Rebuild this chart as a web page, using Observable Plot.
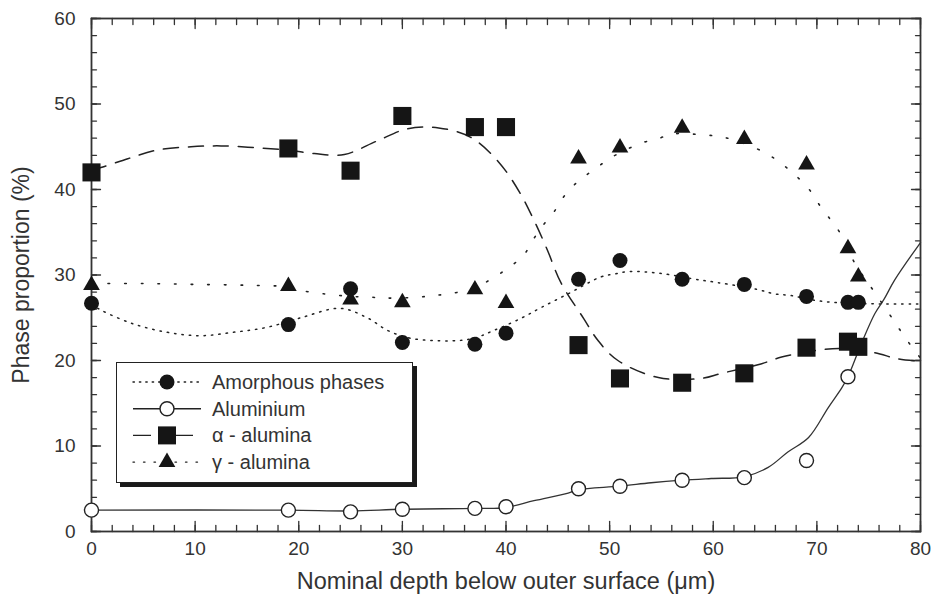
<!DOCTYPE html>
<html><head><meta charset="utf-8">
<script src="https://cdn.jsdelivr.net/npm/d3@7"></script>
<script src="https://cdn.jsdelivr.net/npm/@observablehq/plot@0.6"></script>
<style>
body{margin:0;background:#fff;}
#wrap{position:relative;width:934px;height:596px;font-family:"Liberation Sans",Arial,sans-serif;}
#legend{position:absolute;left:116px;top:362px;width:295px;height:119px;border:1.6px solid #222;box-shadow:4px 4px 0 #1a1a1a;background:#fff;}
</style></head><body><div id="wrap"></div>
<script>
// measured points
const depth = [0,19,25,30,37,40,47,51,57,63,69,73,74];
const amorphous = [26.7,24.2,28.4,22.1,21.9,23.2,29.5,31.7,29.5,28.9,27.5,26.8,26.8];
const aluminiumDepth = [0,19,25,30,37,40,47,51,57,63,69,73];
const aluminium = [2.5,2.5,2.3,2.6,2.7,2.9,5.0,5.3,6.0,6.3,8.3,18.1];
const alphaAlumina = [42.0,44.8,42.2,48.6,47.3,47.3,21.8,17.9,17.4,18.5,21.5,22.2,21.6];
const gammaAlumina = [28.8,28.7,27.1,26.8,28.3,26.7,43.6,44.9,47.2,45.9,42.9,33.1,29.8];

// fitted curves [depth, value]
const amorphousFit = [[0,26.6],[0.9,25.9],[4,24.3],[7.3,23.3],[10.5,22.9],[13.7,23.3],[17,23.9],[20.2,25.0],[24,26.1],[26.6,25.0],[28.6,23.5],[30.8,22.6],[34.7,22.3],[36.9,22.6],[38.8,23.5],[41.4,24.9],[43.4,26.2],[46,27.8],[49.2,29.8],[50.4,30.1],[51.8,30.4],[54.8,30.2],[58.8,29.4],[60.5,29.1],[64.3,28.3],[65.9,27.8],[67.5,27.6],[70,27.0],[73,26.7],[80,26.6]];
const aluminiumFit = [[0,2.5],[19,2.5],[25,2.4],[30,2.6],[37,2.7],[40,2.8],[42.7,3.6],[46,4.5],[47,4.9],[51,5.3],[54,5.7],[57,6.0],[59.8,6.2],[63,6.4],[65.3,7.5],[67.2,9.3],[69.2,11.0],[71.1,14.5],[72.4,16.8],[73,18.1],[74.3,22.0],[75.6,25.5],[76.5,27.2],[77.5,29.4],[80,33.8]];
const alphaFit = [[0,42.3],[1,42.6],[3.5,43.6],[6.3,44.6],[9.6,45.0],[12.5,45.1],[15.7,44.9],[19,44.6],[21.5,44.2],[24.4,44.1],[27.6,45.7],[30.5,47.1],[33.5,47.2],[36.6,46.1],[39.3,43.2],[41.3,39.7],[42.7,36.4],[44,32.9],[45.3,29.1],[47.5,24.9],[48.9,22.3],[50.8,20.0],[54.7,18.0],[58.8,17.9],[60.8,18.5],[64.6,19.6],[66.6,20.4],[70.1,21.2],[72.4,21.4],[75.6,20.9],[77.8,20.2],[80,19.9]];
const gammaFit = [[0,29.0],[5,29.0],[10,28.9],[15,28.8],[19,28.6],[20.2,28.2],[22.4,27.8],[25,27.5],[27,27.4],[28.4,27.3],[31.5,27.4],[33,27.6],[34.5,27.8],[37,28.5],[38.8,29.7],[40.3,30.9],[41.7,32.3],[42.6,34.1],[43.7,36.0],[44.7,37.5],[45.6,39.2],[47,41.0],[48.6,42.4],[50.1,43.7],[53,45.4],[54.8,46.0],[56.1,46.5],[59,46.4],[60.5,46.2],[62,45.8],[65,44.3],[66.6,43.0],[67.8,41.8],[69.2,40.1],[70.3,38.1],[71.3,36.5],[72.2,35.0],[73.7,31.3],[75.5,28.1],[77.4,24.7],[78.4,22.9],[79.4,21.2],[80,20.3]];

// ticks
const xMajor = [0,10,20,30,40,50,60,70,80];
const xMinor = d3.range(0, 81, 2);
const yMajor = [0,10,20,30,40,50,60];
const yMinor = d3.range(0, 61, 2);

const seriesNames = ["Amorphous phases","Aluminium","\u03b1 - alumina","\u03b3 - alumina"];

const ink = "#222";
const tickShape = {draw(ctx, l){ ctx.moveTo(0,0); ctx.lineTo(0,-l); }};
const tickMarks = (data, axis, value, rot, len) => Plot.vector(data, {
  x: axis === "x" ? d => d : () => value,
  y: axis === "y" ? d => d : () => value,
  length: len, rotate: rot, anchor: "start", shape: tickShape,
  stroke: "#333", strokeWidth: 1.3
});

const pts = (xs, ys) => xs.map((x, i) => ({x, y: ys[i]}));

const chart = Plot.plot({
  width: 934, height: 596,
  marginLeft: 91, marginRight: 14, marginTop: 18, marginBottom: 65,
  x: {domain: [0, 80]},
  y: {domain: [0, 60]},
  style: {fontFamily: "'Liberation Sans', Arial, sans-serif", color: "#333", background: "#fff"},
  marks: [
    // ticks on four sides
    tickMarks(xMinor, "x", 0, 0, 6),
    tickMarks(xMajor, "x", 0, 0, 10),
    tickMarks(xMinor, "x", 60, 180, 6),
    tickMarks(xMajor, "x", 60, 180, 10),
    tickMarks(yMinor, "y", 0, 90, 5),
    tickMarks(yMajor, "y", 0, 90, 9),
    tickMarks(yMinor, "y", 80, 270, 5),
    tickMarks(yMajor, "y", 80, 270, 9),
    Plot.axisX(xMajor, {tickSize: 0, tickPadding: 10, fontSize: 19, label: null, fill: "#333"}),
    Plot.axisY(yMajor, {tickSize: 0, tickPadding: 16, fontSize: 19, label: null, fill: "#333"}),
    Plot.text(["Nominal depth below outer surface (\u03bcm)"], {frameAnchor: "bottom", dy: 57, fontSize: 23.5, fill: "#333"}),
    Plot.text(["Phase proportion (%)"], {frameAnchor: "left", textAnchor: "middle", dx: -70, rotate: -90, fontSize: 23, fill: "#333"}),
    // fitted curves
    Plot.line(amorphousFit, {x: d => d[0], y: d => d[1], curve: "catmull-rom", stroke: ink, strokeWidth: 1.5, strokeDasharray: "1.4,6", strokeLinecap: "round"}),
    Plot.line(aluminiumFit, {x: d => d[0], y: d => d[1], curve: "catmull-rom", stroke: "#333", strokeWidth: 1.3}),
    Plot.line(alphaFit, {x: d => d[0], y: d => d[1], curve: "catmull-rom", stroke: ink, strokeWidth: 1.5, strokeDasharray: "15,10"}),
    Plot.line(gammaFit, {x: d => d[0], y: d => d[1], curve: "catmull-rom", stroke: ink, strokeWidth: 1.6, strokeDasharray: "1.6,15", strokeLinecap: "round"}),
    Plot.frame({stroke: "#333", strokeWidth: 1.8}),
    // markers
    Plot.dot(pts(depth, alphaAlumina), {x: "x", y: "y", symbol: "square", r: 10.2, fill: "#151515", stroke: "none"}),
    Plot.dot(pts(depth, gammaAlumina), {x: "x", y: "y", symbol: "triangle", r: 6.2, fill: "#151515", stroke: "none"}),
    Plot.dot(pts(depth, amorphous), {x: "x", y: "y", r: 7.5, fill: "#151515", stroke: "none"}),
    Plot.dot(pts(aluminiumDepth, aluminium), {x: "x", y: "y", r: 7, fill: "#fff", stroke: "#222", strokeWidth: 1.4})
  ]
});

const wrap = document.getElementById("wrap");
wrap.appendChild(chart);

// legend
const legend = document.createElement("div");
legend.id = "legend";
wrap.appendChild(legend);
const lsvg = d3.select(legend).append("svg").attr("width", 295).attr("height", 119);
const styles = [
  {dash: "1.4,5", cap: "round", sym: d3.symbolCircle, size: Math.PI*7.5*7.5, fill: "#151515", stroke: "none"},
  {dash: null, cap: "butt", sym: d3.symbolCircle, size: Math.PI*7*7, fill: "#fff", stroke: "#222"},
  {dash: "18,9,6,9", cap: "butt", sym: d3.symbolSquare, size: 18*18, fill: "#151515", stroke: "none"},
  {dash: "1.5,9", cap: "round", sym: d3.symbolTriangle, size: Math.PI*6.2*6.2, fill: "#151515", stroke: "none"}
];
seriesNames.forEach((name, i) => {
  const cy = 19 + i * 26.7;
  const s = styles[i];
  const g = lsvg.append("g").attr("transform", `translate(0,${cy})`);
  g.append("line").attr("x1", 16).attr("x2", 84).attr("y1", 0).attr("y2", 0)
    .attr("stroke", "#222").attr("stroke-width", 1.4)
    .attr("stroke-dasharray", s.dash).attr("stroke-linecap", s.cap);
  g.append("path").attr("transform", "translate(50,0)")
    .attr("d", d3.symbol(s.sym, s.size)())
    .attr("fill", s.fill).attr("stroke", s.stroke).attr("stroke-width", 1.4);
  g.append("text").attr("x", 95).attr("y", 0).attr("dy", "0.35em")
    .attr("font-size", 20).attr("fill", "#333")
    .attr("font-family", "'Liberation Sans', Arial, sans-serif").text(name);
});
</script></body></html>
